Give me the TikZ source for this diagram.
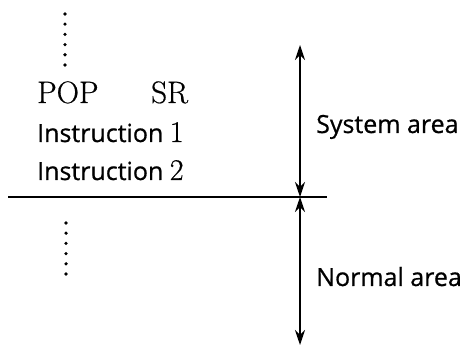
\documentclass[tikz,border=0pt]{standalone}
\usepackage{fontspec}
\usepackage{tikz}
\usetikzlibrary{arrows.meta,positioning}
\newfontfamily\areafont{Open Sans}[FakeBold=0.7]
\newfontfamily\opfont{Latin Modern Roman}[FakeBold=0.6]
\newcommand{\digit}[1]{{\opfont\fontsize{30}{36}\selectfont #1}}
\tikzset{
  opcode/.style={font=\opfont\fontsize{31}{36}\selectfont,inner sep=0pt,anchor=base west},
  areatext/.style={font=\areafont\fontsize{25}{30}\selectfont,inner sep=0pt,anchor=base west},
  span/.style={{Stealth[length=15pt,width=10pt]}-{Stealth[length=15pt,width=10pt]},line width=1.4pt},
}

\begin{document}
\begin{tikzpicture}[x=1pt,y=-1pt]
  \useasboundingbox (0,0) rectangle (463,347);
  % program listing (left)
  \def\gap{10.2}
  \foreach \k in {0,...,5}{
    \fill (65,{14+\k*\gap}) circle (1.8);
  }
  \node[opcode] (pop) at (37,103) {POP};
  \node[opcode] (sr) at (151,103) {SR};
  \node[areatext] (instA) at (37,142) {Instruction \digit{1}};
  \node[areatext] (instB) at (37,180) {Instruction \digit{2}};
  \foreach \k in {0,...,5}{
    \fill (66,{223+\k*\gap}) circle (1.8);
  }
  % boundary between the two areas
  \coordinate (edgeL) at (8,197);
  \coordinate (edgeR) at (327,197);
  \draw[line width=1.5pt] (edgeL) -- (edgeR);
  % extent arrows (right)
  \coordinate (sysTop) at (300,45);
  \coordinate (split) at (300,197);
  \coordinate (normBot) at (300,345);
  \draw[span] (sysTop) -- (split);
  \draw[span] (split) -- (normBot);
  \node[areatext] (sys) at (316,133) {System area};
  \node[areatext] (norm) at (316,286) {Normal area};
\end{tikzpicture}
\end{document}
